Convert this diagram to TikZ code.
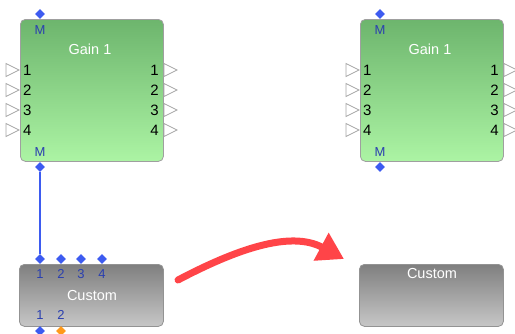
\documentclass[tikz,border=0pt]{standalone}
\usepackage{fontspec}
\setmainfont{Liberation Sans}
\usetikzlibrary{arrows.meta,positioning,calc,shapes.geometric}

\begin{document}
\begin{tikzpicture}[
    x=1pt, y=-1pt,
    >=Latex,
    gainblk/.style={draw=gray!75, line width=0.8pt, rounded corners=5pt, minimum width=143pt, minimum height=142pt, anchor=north west, inner sep=0pt},
    custblk/.style={draw=gray!85, line width=0.8pt, rounded corners=5pt, top color=black!50, bottom color=black!22, minimum width=144pt, minimum height=62pt, anchor=north west, inner sep=0pt},
    pin/.style={diamond, fill=pinblue, inner sep=0pt, minimum width=10pt, minimum height=10pt},
    pinlbl/.style={font=\fontsize{13}{13}\selectfont, text=pinlbltxt, inner sep=0pt},
    portlbl/.style={font=\fontsize{15}{15}\selectfont, inner sep=0pt},
    title/.style={font=\fontsize{14.5}{14.5}\selectfont, text=white, inner sep=0pt},
    porttri/.style={draw=gray!70, line width=0.8pt, fill=white}
]
\definecolor{pinblue}{HTML}{3D5BF0}
\definecolor{pinlbltxt}{HTML}{2A3FB0}
\definecolor{pinorange}{HTML}{FF9A1A}
\definecolor{gaintop}{HTML}{6DB56D}
\definecolor{gainbot}{HTML}{ACF4A4}
\definecolor{arrowred}{HTML}{FF4448}
\useasboundingbox (0,0) rectangle (515,333);

% gain blocks, before and after
\foreach \g/\dx in {ga/0, gb/340} {
  \node[gainblk, top color=gaintop, bottom color=gainbot] (\g) at (20+\dx,19) {};
  \node[title] at (90+\dx,49) {Gain 1};
  \node[pin] (\g-top) at (40+\dx,14) {};
  \node[pin] (\g-bot) at (40+\dx,167) {};
  \node[pinlbl] at (40+\dx,30) {M};
  \node[pinlbl] at (40+\dx,152) {M};
  \foreach \i/\y in {1/70, 2/90, 3/110, 4/130} {
    \draw[porttri] (6+\dx,\y-6.5) -- (19+\dx,\y) -- (6+\dx,\y+6.5) -- cycle;
    \draw[porttri] (164+\dx,\y-6.5) -- (177+\dx,\y) -- (164+\dx,\y+6.5) -- cycle;
    \node[portlbl, anchor=west] at (23+\dx,\y) {\i};
    \node[portlbl, anchor=east] at (159+\dx,\y) {\i};
  }
}

% custom block with pins
\node[custblk] (ca) at (19,264) {};
\node[title] at (92,296) {Custom};
\foreach \i/\x in {1/40, 2/61, 3/81, 4/102} {
  \node[pin] (ca-in\i) at (\x,259) {};
  \node[pinlbl] at (\x,274) {\i};
}
\node[pinlbl] at (40,315) {1};
\node[pinlbl] at (61,315) {2};
\node[pin] (ca-out1) at (40,331) {};
\node[pin, fill=pinorange] (ca-out2) at (61,331) {};

% custom block, stripped
\node[custblk] (cb) at (359,264) {};
\node[title] at (432,274) {Custom};

% wire and transition arrow
\draw[pinblue, line width=1.3pt] (ga-bot) -- (ca-in1);
\draw[arrowred, line width=7pt, line cap=round, -{Triangle[length=26pt, width=30pt]}]
  (178,280) .. controls (235,250) and (290,230) .. (344,259);
\end{tikzpicture}
\end{document}
